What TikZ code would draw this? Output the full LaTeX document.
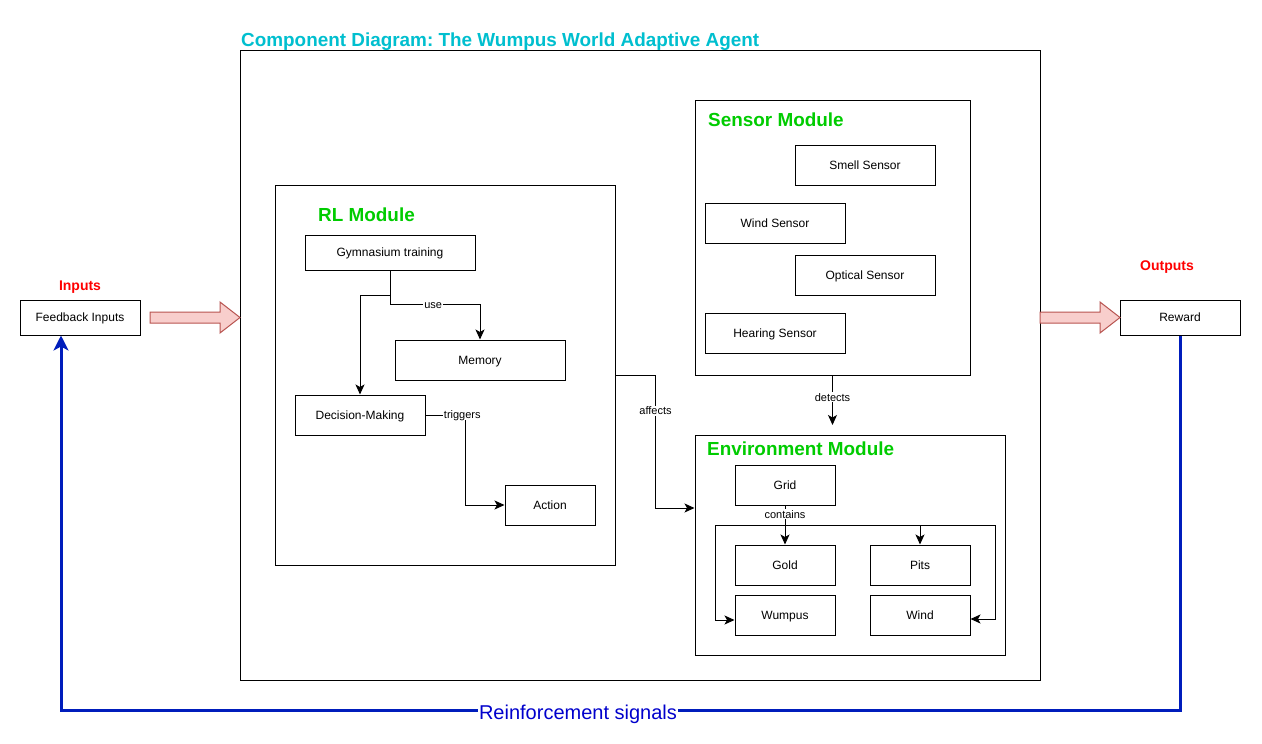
\documentclass[tikz,border=0pt]{standalone}
\usepackage{fontspec}
\setmainfont{Liberation Sans}
\usetikzlibrary{arrows.meta}
\frenchspacing
\definecolor{titlecyan}{HTML}{00BFCF}
\definecolor{modgreen}{HTML}{00CC00}
\definecolor{ioRed}{HTML}{FF0000}
\definecolor{blkfill}{HTML}{F8CECC}
\definecolor{blkline}{HTML}{B85450}
\definecolor{fbblue}{HTML}{001DBC}
\definecolor{fbtext}{HTML}{0000CC}
\tikzset{
  box/.style={draw=black, line width=1pt, fill=white, rectangle, inner sep=0pt,
    text height=8.6pt, text depth=0pt, font=\fontsize{12}{14}\selectfont},
  frame/.style={draw=black, line width=1pt, rectangle, inner sep=0pt},
  modtitle/.style={anchor=west, inner sep=0pt, text=modgreen, text height=13.5pt, text depth=0pt,
    font=\fontsize{18.9}{22}\selectfont\bfseries},
  iolabel/.style={inner sep=0pt, text=ioRed, text height=10pt, text depth=0pt,
    font=\fontsize{14}{16}\selectfont\bfseries},
  conn/.style={draw=black, line width=1pt, -{Stealth[length=10pt,width=9pt,inset=2.5pt]}},
  lbl/.style={fill=white, inner sep=1pt, text height=7.9pt, text depth=0pt,
    font=\fontsize{11}{13}\selectfont, text=black},
  blockarrow/.style={draw=blkline, fill=blkfill, line width=1pt, line join=miter},
  fbline/.style={draw=fbblue, line width=3pt, -{Stealth[length=15pt,width=15pt,inset=4pt]}},
}
\begin{document}
\begin{tikzpicture}[x=1pt,y=-1pt]
\useasboundingbox (0,0) rectangle (1262,744);
\fill[white] (0,0) rectangle (1262,744);

% main frame and title
\node[frame, minimum width=800pt, minimum height=630pt] (main) at (640,365) {};
\node[anchor=west, inner sep=0pt, text=titlecyan, text height=13.5pt, text depth=0pt,
  font=\fontsize{18.9}{22}\selectfont\bfseries]
  (title) at (241,40) {Component Diagram: The Wumpus World Adaptive Agent};

% RL module
\node[frame, minimum width=340pt, minimum height=380pt] (rl) at (445,375) {};
\node[modtitle] (rlt) at (318,214.5) {RL Module};
\node[box, minimum width=170pt, minimum height=35pt] (gym) at (390,252.5) {Gymnasium training};
\node[box, minimum width=170pt, minimum height=40pt] (mem) at (480,360) {Memory};
\node[box, minimum width=130pt, minimum height=40pt] (dec) at (360,415) {Decision-Making};
\node[box, minimum width=90pt, minimum height=40pt] (act) at (550,505) {Action};

% Sensor module
\node[frame, minimum width=275pt, minimum height=275pt] (sens) at (832.5,237.5) {};
\node[modtitle] (senst) at (708,119.5) {Sensor Module};
\node[box, minimum width=140pt, minimum height=40pt] (smell) at (865,165) {Smell Sensor};
\node[box, minimum width=140pt, minimum height=40pt] (winds) at (775,223) {Wind Sensor};
\node[box, minimum width=140pt, minimum height=40pt] (optical) at (865,275) {Optical Sensor};
\node[box, minimum width=140pt, minimum height=40pt] (hearing) at (775,333) {Hearing Sensor};

% Environment module
\node[frame, minimum width=310pt, minimum height=220pt] (env) at (850,545) {};
\node[modtitle] (envt) at (707,448.5) {Environment Module};
\node[box, minimum width=100pt, minimum height=40pt] (grid) at (785,485) {Grid};
\node[box, minimum width=100pt, minimum height=40pt] (gold) at (785,565) {Gold};
\node[box, minimum width=100pt, minimum height=40pt] (pits) at (920,565) {Pits};
\node[box, minimum width=100pt, minimum height=40pt] (wump) at (785,615) {Wumpus};
\node[box, minimum width=100pt, minimum height=40pt] (wind) at (920,615) {Wind};

% inputs / outputs
\node[iolabel] (inl) at (80,285) {Inputs};
\node[box, minimum width=120pt, minimum height=35pt] (fb) at (80,317.5) {Feedback Inputs};
\node[iolabel] (outl) at (1167,265) {Outputs};
\node[box, minimum width=120pt, minimum height=35pt] (reward) at (1180,317.5) {Reward};

% block arrows
\draw[blockarrow] (150,312) -- (220,312) -- (220,302) -- (240,317.5) -- (220,333) -- (220,323) -- (150,323) -- cycle;
\draw[blockarrow] (1040,312) -- (1100,312) -- (1100,302) -- (1120,317.5) -- (1100,333) -- (1100,323) -- (1040,323) -- cycle;

% RL connectors
\draw[conn] (gym.south) -- ++(0,25) -| (dec.north);
\draw[conn] (gym.south) -- ++(0,34) -| node[lbl, pos=0.24] {use} (mem.north);
\draw[conn] (dec.east) -- node[lbl, pos=0.92] {triggers} ++(40,0) |- (act.west);

% affects
\draw[conn] (rl.east) -- ++(40,0) |- node[lbl, pos=0.135] {affects} ([yshift=37pt]env.west);

% detects
\coordinate (detend) at (832.5,425);
\draw[conn] (sens.south) -- node[lbl, pos=0.44] {detects} (detend);

% environment connectors
\coordinate (cT) at (785,525);
\draw[conn] (grid.south) -- node[lbl, pos=0.225] {contains} (gold.north);
\draw[conn] (cT) -| ++(-70,95) -- ([yshift=-5pt]wump.west);
\draw[conn] (cT) -| (pits.north);
\draw[conn] (cT) -| ++(210,94) -- ([yshift=-4pt]wind.east);

% reinforcement feedback
\draw[fbline] (reward.south) -- ++(0,375) -| node[pos=0.269, yshift=-2pt, fill=white, inner sep=1pt, text=fbtext, text height=14.3pt, text depth=0pt, font=\fontsize{20}{24}\selectfont] {Reinforcement signals} ([xshift=-19pt]fb.south);
\end{tikzpicture}
\end{document}
